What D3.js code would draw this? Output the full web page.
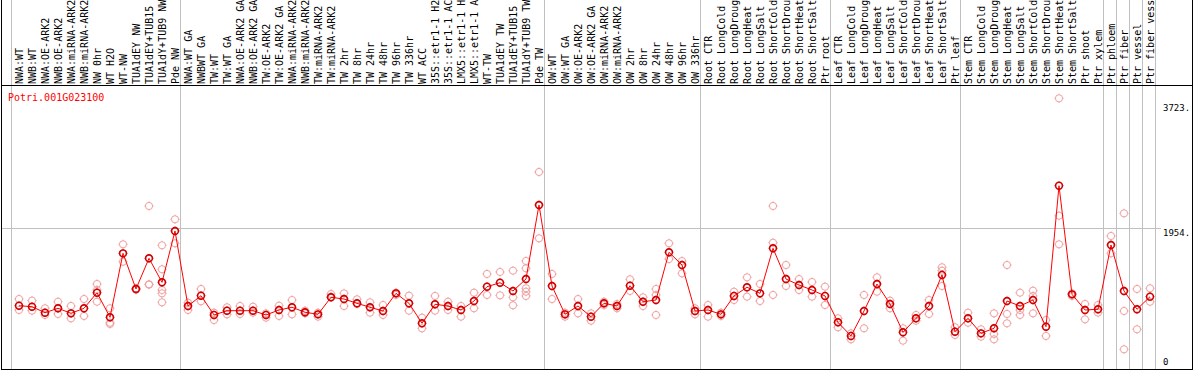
<!DOCTYPE html>
<html><head><meta charset="utf-8">
<script src="https://cdn.jsdelivr.net/npm/d3@7"></script>
<style>body{margin:0;background:#fff}svg{display:block}</style>
</head><body><svg id="c" width="1194" height="370"></svg>
<script>
const title = "Potri.001G023100";
const categories = ["NWA:WT","NWB:WT","NWA:OE-ARK2","NWB:OE-ARK2","NWA:miRNA-ARK2","NWB:miRNA-ARK2","NW 0hr","WT H2O","WT-NW","TUA1dEY NW","TUA1dEY+TUB15","TUA1dY+TUB9 NW","Pde NW",
"NWA:WT GA","NWBWT GA","TW:WT","TW:WT GA","NWA:OE-ARK2 GA","NWB:OE-ARK2 GA","TW:OE-ARK2","TW:OE-ARK2 GA","NWA:miRNA-ARK2","NWB:miRNA-ARK2","TW:miRNA-ARK2","TW:miRNA-ARK2","TW 2hr","TW 8hr","TW 24hr","TW 48hr","TW 96hr","TW 336hr","WT ACC","35S::etr1-1 H2","35S::etr1-1 AC","LMX5::etr1-1 H","LMX5::etr1-1 A","WT-TW","TUA1dEY TW","TUA1dEY+TUB15","TUA1dY+TUB9 TW","Pde TW",
"OW:WT","OW:WT GA","OW:OE-ARK2","OW:OE-ARK2 GA","OW:miRNA-ARK2","OW:miRNA-ARK2","OW 2hr","OW 8hr","OW 24hr","OW 48hr","OW 96hr","OW 336hr",
"Root CTR","Root LongCold","Root LongDroug","Root LongHeat","Root LongSalt","Root ShortCold","Root ShortDrou","Root ShortHeat","Root ShortSalt","Ptr root",
"Leaf CTR","Leaf LongCold","Leaf LongDroug","Leaf LongHeat","Leaf LongSalt","Leaf ShortCold","Leaf ShortDrou","Leaf ShortHeat","Leaf ShortSalt","Ptr leaf",
"Stem CTR","Stem LongCold","Stem LongDroug","Stem LongHeat","Stem LongSalt","Stem ShortCold","Stem ShortDrou","Stem ShortHeat","Stem ShortSalt","Ptr shoot","Ptr xylem",
"Ptr phloem","Ptr fiber","Ptr vessel","Ptr fiber vess"];
const means = [861,847,763,825,754,825,1044,698,1597,1096,1527,1190,1911,
857,1002,731,791,791,791,731,801,839,769,740,979,955,895,839,787,1035,895,614,881,857,801,927,1128,1184,1068,1236,2276,
1138,740,857,707,895,857,1142,917,941,1612,1433,787,
801,740,998,1120,1035,1668,1236,1152,1082,998,
628,436,787,1166,885,488,684,857,1293,496,
684,473,544,927,857,941,566,2547,1021,801,811,
1714,1068,811,988];
const replicates = [[955,801],[932,791],[825,731],[917,745],[857,684],[955,717],[1166,917,1082],[825,622,604],[1724,1479],[1106,1086],[2262,1162,1157],[1710,1373,1082,1035,909],[2075,1738],
[903,801],[1096,923],[763,660],[839,740],[857,745],[847,763],[754,693],[861,717],[941,740],[791,754],[763,707],[1026,988],[1035,857],[951,885],[909,763],[871,731],[1044,1012],[1002,791],[693,544],[998,791],[917,801],[857,707],[1044,825],[1307,1012],[1335,1007],[1353,979,867],[1489,1387,1106,1058,998],[2740,1808],
[1307,955],[763,707],[955,754],[754,650],[917,871],[885,825],[1232,1068],[979,857],[1096,1012,731],[1738,1517],[1489,1316],[825,740],
[871,707],[763,717],[1058,941],[1260,988],[1166,927],[2262,1746,1012],[1433,1138],[1236,1082],[1194,988],[1128,871],
[684,558],[473,389],[1012,544],[1260,1058],[932,825],[544,370],[731,650],[941,745],[1401,1353,1138],[558,450],
[763,622],[530,426],[754,464,389],[1433,745,614],[1044,801,731],[1072,998,754],[660,436],[3775,2126,1724],[1035,998],[885,670],[871,763],
[1841,1597],[2159,787,249],[1096,530],[1106,917]];
const groupStarts = [0,13,41,53,63,73,84,85,86,87];
const yTicks = [0,1954,3723];
const yTickLabels = ["0","1954.","3723."];

const svg = d3.select("#c");
const idx = categories.map((_, i) => i);
const x = d3.scaleBand().domain(idx).range([11, 1155]);
const y = d3.scaleLinear().domain([0, 3723]).range([367, 102]);
const cx = i => x(i) + x.bandwidth() / 2 + 1.5;
const mono = "'DejaVu Sans Mono', monospace";

// vertical group gridlines
const gx = groupStarts.map(k => x(k)).concat([x.range()[1]]);
svg.append("g").selectAll("line").data(gx).join("line")
  .attr("x1", d => Math.round(d) + 0.5).attr("x2", d => Math.round(d) + 0.5)
  .attr("y1", 0).attr("y2", 369).attr("stroke", "#c0c0c0").attr("stroke-width", 1);

// horizontal gridline at middle tick
svg.append("line").attr("x1", 1).attr("x2", 1161)
  .attr("y1", Math.round(y(yTicks[1])) + 0.5).attr("y2", Math.round(y(yTicks[1])) + 0.5)
  .attr("stroke", "#c0c0c0");

// frame
svg.append("line").attr("x1", 1.5).attr("x2", 1.5).attr("y1", 0).attr("y2", 369.5).attr("stroke", "#000");
svg.append("line").attr("x1", 1192.5).attr("x2", 1192.5).attr("y1", 0).attr("y2", 369.5).attr("stroke", "#000");
svg.append("line").attr("x1", 1).attr("x2", 1193).attr("y1", 369.5).attr("y2", 369.5).attr("stroke", "#000");
svg.append("line").attr("x1", 1).attr("x2", 1193).attr("y1", 85.5).attr("y2", 85.5).attr("stroke", "#000");

// header labels
svg.append("defs").append("clipPath").attr("id", "hc").append("rect")
  .attr("x", 0).attr("y", 0).attr("width", 1194).attr("height", 85);
svg.append("g").attr("clip-path", "url(#hc)").selectAll("text").data(idx).join("text")
  .attr("transform", i => `translate(${cx(i)},84) rotate(-90)`)
  .attr("dy", "0.36em")
  .attr("font-family", mono).attr("font-size", 10).attr("fill", "#000")
  .text(i => categories[i]);

// title
svg.append("text").attr("x", 8).attr("y", 101).attr("font-family", mono).attr("font-size", 10)
  .attr("fill", "#f00").text(title);

// y tick labels
svg.append("g").selectAll("text").data(yTicks).join("text")
  .attr("x", 1163)
  .attr("y", v => v === 0 ? y(v) - 2 : y(v) + 8.5)
  .attr("font-family", mono).attr("font-size", 9).attr("fill", "#000")
  .text((v, i) => yTickLabels[i]);

function marker(g, px, py, color, sw, r) {
  const m = g.append("g").attr("transform", `translate(${px},${py})`)
    .attr("stroke", color).attr("fill", "none").attr("stroke-width", sw);
  m.append("circle").attr("r", r);
  [[0,-1],[0,1],[-1,0],[1,0]].forEach(([dx, dy]) => {
    m.append("line").attr("x1", dx * r).attr("y1", dy * r)
      .attr("x2", dx * (r + 1)).attr("y2", dy * (r + 1)).attr("stroke-width", 1);
  });
}

// replicates
const gr = svg.append("g");
replicates.forEach((arr, i) => arr.forEach(v => marker(gr, cx(i), y(v), "#f0a0a0", 1, 3.6)));

// mean line
const line = d3.line().x((d, i) => cx(i)).y(d => y(d));
svg.append("path").datum(means).attr("d", line).attr("fill", "none").attr("stroke", "#f00").attr("stroke-width", 1);

// means
const gm = svg.append("g");
means.forEach((v, i) => marker(gm, cx(i), y(v), "#d00000", 1.6, 3.4));
</script></body></html>
